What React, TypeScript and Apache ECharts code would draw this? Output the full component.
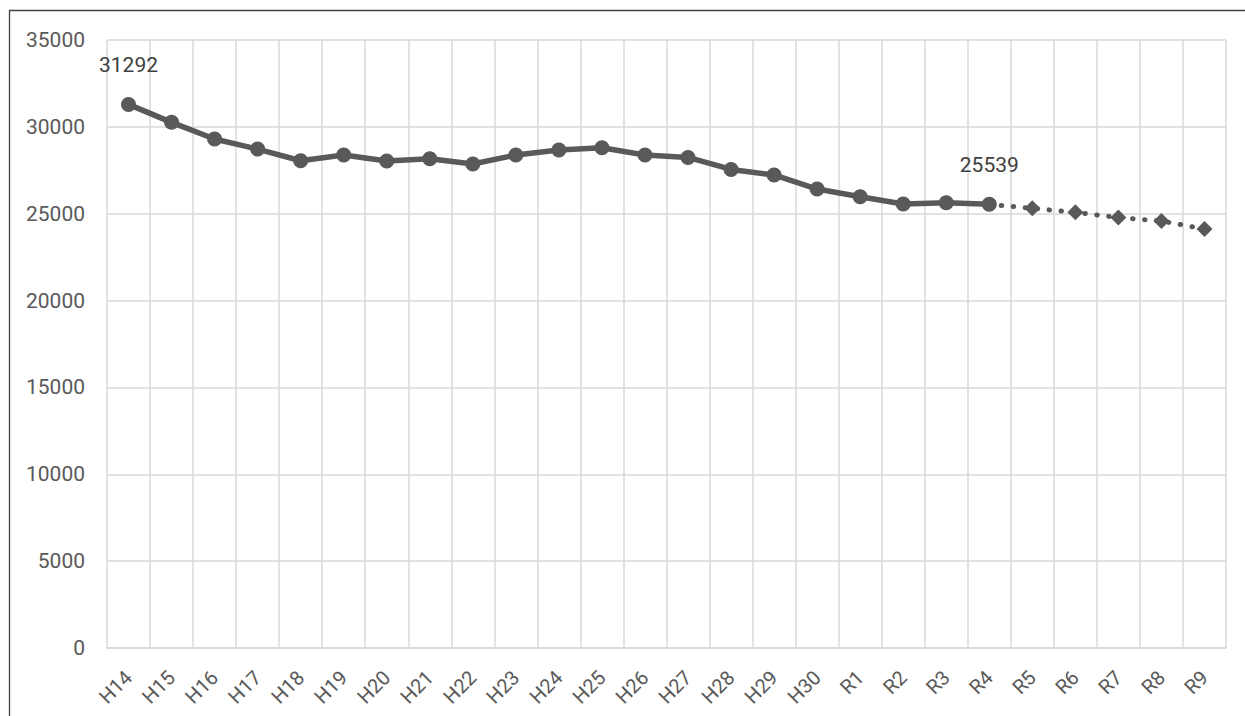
import React, { useEffect, useRef } from "react";
import * as echarts from "echarts";

const categories = [
  "H14", "H15", "H16", "H17", "H18", "H19", "H20", "H21", "H22", "H23", "H24", "H25",
  "H26", "H27", "H28", "H29", "H30", "R1", "R2", "R3", "R4", "R5", "R6", "R7", "R8", "R9",
];

// Actual values H14..R4
const actualValues = [
  31292, 30260, 29300, 28720, 28050, 28380, 28030, 28160, 27860, 28380, 28670, 28800,
  28380, 28240, 27550, 27230, 26420, 25980, 25560, 25630, 25539,
];

// Projection values R4..R9
const forecastValues = [25539, 25310, 25080, 24780, 24580, 24120];

const labelledIndices = [0, 20];

const yTicks = { min: 0, max: 35000, interval: 5000 };

export default function App() {
  const ref = useRef<HTMLDivElement>(null);

  useEffect(() => {
    document.body.style.margin = "0";
    if (!ref.current) return;
    const chart = echarts.init(ref.current, undefined, { renderer: "svg" });

    const actualData = categories.map((_, i) => {
      if (i >= actualValues.length) return null;
      if (labelledIndices.includes(i)) {
        return {
          value: actualValues[i],
          label: {
            show: true,
            position: "top",
            distance: 21,
            color: "#404040",
            fontSize: 21,
            fontFamily: "Roboto",
          },
        };
      }
      return actualValues[i];
    });
    const startF = actualValues.length - 1;
    const forecastData = categories.map((_, i) => {
      const j = i - startF;
      if (j < 0 || j >= forecastValues.length) return null;
      if (j === 0) return { value: forecastValues[j], symbol: "none" };
      return forecastValues[j];
    });

    chart.setOption({
      animation: false,
      backgroundColor: "#ffffff",
      graphic: [
        {
          type: "polyline",
          shape: { points: [[9.5, 716], [9.5, 10.5], [1245, 10.5]] },
          style: { fill: "none", stroke: "#404040", lineWidth: 1.3 },
          silent: true,
          z: 100,
        },
      ],
      grid: { left: 107, top: 40, right: 19, bottom: 68, containLabel: false },
      xAxis: {
        type: "category",
        data: categories,
        boundaryGap: true,
        axisLine: { show: true, lineStyle: { color: "#d9d9d9", width: 1.5 } },
        axisTick: { show: false },
        splitLine: { show: true, lineStyle: { color: "#d9d9d9", width: 1.5 } },
        axisLabel: {
          rotate: 45,
          interval: 0,
          color: "#595959",
          fontSize: 20,
          fontFamily: "Roboto",
          margin: 26,
        },
      },
      yAxis: {
        type: "value",
        min: yTicks.min,
        max: yTicks.max,
        interval: yTicks.interval,
        axisLine: { show: false },
        axisTick: { show: false },
        splitLine: { show: true, lineStyle: { color: "#d9d9d9", width: 1.5 } },
        axisLabel: {
          color: "#595959",
          fontSize: 21,
          fontFamily: "Roboto",
          margin: 22,
          formatter: (v: number) => String(v),
        },
      },
      series: [
        {
          type: "line",
          data: actualData,
          symbol: "circle",
          symbolSize: 15,
          showAllSymbol: true,
          lineStyle: { color: "#595959", width: 5.5 },
          itemStyle: { color: "#595959" },
          z: 3,
          connectNulls: false,
        },
        {
          type: "line",
          data: forecastData,
          symbol: "diamond",
          symbolSize: 16,
          showAllSymbol: true,
          lineStyle: { color: "#595959", width: 5, type: [0.5, 11.5], cap: "round" },
          itemStyle: { color: "#595959" },
          z: 2,
          connectNulls: false,
        },
      ],
    });

    return () => chart.dispose();
  }, []);

  return <div ref={ref} style={{ width: 1245, height: 716 }} />;
}
